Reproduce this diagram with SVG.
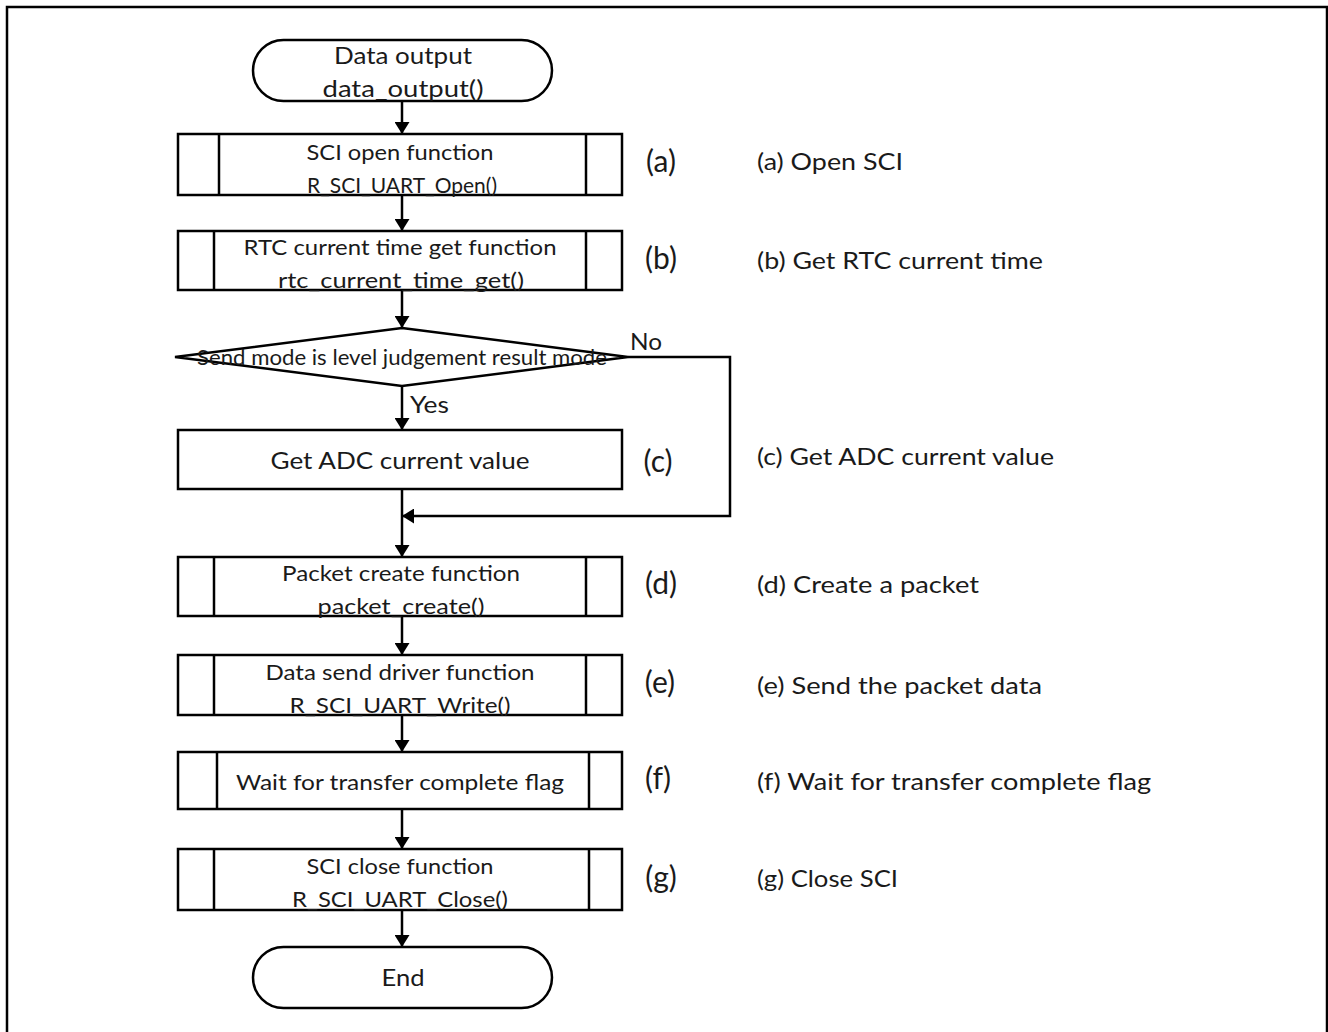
<svg xmlns="http://www.w3.org/2000/svg" width="1328" height="1032" viewBox="0 0 1328 1032">
<style>
.s{fill:#fff;stroke:#000;stroke-width:2.5}
.l{fill:none;stroke:#000;stroke-width:2.5}
.c{stroke:#000;stroke-width:2.5;fill:none}
text{font-family:Lato,"Open Sans","Liberation Sans",sans-serif;fill:#1a1a1a}
.t{font-size:22px;text-anchor:middle}
.k{font-size:30px;text-anchor:middle}
.d{font-size:24px}
</style>
<defs>
<marker id="ah" viewBox="0 0 12 15" refX="12" refY="7.5" markerWidth="12" markerHeight="15" markerUnits="userSpaceOnUse" orient="auto">
<path d="M0,0 L12,7.5 L0,15 Z" fill="#000"/>
</marker>
</defs>
<rect x="7" y="7" width="1320" height="1040" fill="none" stroke="#000" stroke-width="2.5"/>
<g id="connectors">
<line class="c" x1="402" y1="101" x2="402" y2="134" marker-end="url(#ah)"/>
<line class="c" x1="402" y1="195" x2="402" y2="231" marker-end="url(#ah)"/>
<line class="c" x1="402" y1="290" x2="402" y2="328" marker-end="url(#ah)"/>
<line class="c" x1="402" y1="386" x2="402" y2="430" marker-end="url(#ah)"/>
<polyline class="c" points="628,357 730,357 730,516 402,516" marker-end="url(#ah)"/>
<line class="c" x1="402" y1="489" x2="402" y2="557" marker-end="url(#ah)"/>
<line class="c" x1="402" y1="616" x2="402" y2="655" marker-end="url(#ah)"/>
<line class="c" x1="402" y1="715" x2="402" y2="752" marker-end="url(#ah)"/>
<line class="c" x1="402" y1="809" x2="402" y2="849" marker-end="url(#ah)"/>
<line class="c" x1="402" y1="910" x2="402" y2="947" marker-end="url(#ah)"/>
<text x="630" y="350" class="d" textLength="32" lengthAdjust="spacingAndGlyphs">No</text>
<text x="410" y="413" class="d" textLength="39" lengthAdjust="spacingAndGlyphs">Yes</text>
</g>
<g id="start">
<rect class="s" x="253" y="40" width="299" height="61" rx="30.5"/>
<text x="403" y="64" class="t" style="font-size:24px" textLength="138" lengthAdjust="spacingAndGlyphs">Data output</text>
<text x="403" y="97" class="t" style="font-size:24px" textLength="161" lengthAdjust="spacingAndGlyphs">data_output()</text>
</g>
<g id="a">
<rect class="s" x="178" y="134" width="444" height="61"/>
<line class="l" x1="219" y1="134" x2="219" y2="195"/>
<line class="l" x1="586" y1="134" x2="586" y2="195"/>
<text x="400" y="160" class="t" textLength="187" lengthAdjust="spacingAndGlyphs">SCI open function</text>
<text x="402" y="193" class="t" textLength="190" lengthAdjust="spacingAndGlyphs">R_SCI_UART_Open()</text>
</g>
<g id="b">
<rect class="s" x="178" y="231" width="444" height="59"/>
<line class="l" x1="214" y1="231" x2="214" y2="290"/>
<line class="l" x1="586" y1="231" x2="586" y2="290"/>
<text x="400" y="255" class="t" textLength="313" lengthAdjust="spacingAndGlyphs">RTC current time get function</text>
<text x="401" y="288" class="t" textLength="246" lengthAdjust="spacingAndGlyphs">rtc_current_time_get()</text>
</g>
<g id="decision">
<polygon class="s" points="402,328 628,357 402,386 175,357"/>
<text x="402" y="365" class="t" textLength="410" lengthAdjust="spacingAndGlyphs">Send mode is level judgement result mode</text>
</g>
<g id="c">
<rect class="s" x="178" y="430" width="444" height="59"/>
<text x="400" y="469" class="t" style="font-size:24px" textLength="259" lengthAdjust="spacingAndGlyphs">Get ADC current value</text>
</g>
<g id="d">
<rect class="s" x="178" y="557" width="444" height="59"/>
<line class="l" x1="214" y1="557" x2="214" y2="616"/>
<line class="l" x1="586" y1="557" x2="586" y2="616"/>
<text x="401" y="581" class="t" textLength="238" lengthAdjust="spacingAndGlyphs">Packet create function</text>
<text x="401" y="614" class="t" textLength="167" lengthAdjust="spacingAndGlyphs">packet_create()</text>
</g>
<g id="e">
<rect class="s" x="178" y="655" width="444" height="60"/>
<line class="l" x1="214" y1="655" x2="214" y2="715"/>
<line class="l" x1="586" y1="655" x2="586" y2="715"/>
<text x="400" y="680" class="t" textLength="269" lengthAdjust="spacingAndGlyphs">Data send driver function</text>
<text x="400" y="713" class="t" textLength="221" lengthAdjust="spacingAndGlyphs">R_SCI_UART_Write()</text>
</g>
<g id="f">
<rect class="s" x="178" y="752" width="444" height="57"/>
<line class="l" x1="217" y1="752" x2="217" y2="809"/>
<line class="l" x1="589" y1="752" x2="589" y2="809"/>
<text x="400" y="790" class="t" textLength="328" lengthAdjust="spacingAndGlyphs">Wait for transfer complete flag</text>
</g>
<g id="g">
<rect class="s" x="178" y="849" width="444" height="61"/>
<line class="l" x1="214" y1="849" x2="214" y2="910"/>
<line class="l" x1="589" y1="849" x2="589" y2="910"/>
<text x="400" y="874" class="t" textLength="187" lengthAdjust="spacingAndGlyphs">SCI close function</text>
<text x="400" y="907" class="t" textLength="216" lengthAdjust="spacingAndGlyphs">R_SCI_UART_Close()</text>
</g>
<g id="end">
<rect class="s" x="253" y="947" width="299" height="61" rx="30.5"/>
<text x="403" y="986" class="t" style="font-size:24px" textLength="43" lengthAdjust="spacingAndGlyphs">End</text>
</g>
<g id="labels">
<text x="661" y="172" class="k">(a)</text>
<text x="661" y="269" class="k">(b)</text>
<text x="658" y="472" class="k">(c)</text>
<text x="661" y="594" class="k">(d)</text>
<text x="660" y="693" class="k">(e)</text>
<text x="658" y="789" class="k">(f)</text>
<text x="661" y="888" class="k">(g)</text>
</g>
<g id="notes">
<text x="757" y="170" class="d" textLength="146" lengthAdjust="spacingAndGlyphs">(a) Open SCI</text>
<text x="757" y="269" class="d" textLength="286" lengthAdjust="spacingAndGlyphs">(b) Get RTC current time</text>
<text x="757" y="465" class="d" textLength="297" lengthAdjust="spacingAndGlyphs">(c) Get ADC current value</text>
<text x="757" y="593" class="d" textLength="222" lengthAdjust="spacingAndGlyphs">(d) Create a packet</text>
<text x="757" y="694" class="d" textLength="285" lengthAdjust="spacingAndGlyphs">(e) Send the packet data</text>
<text x="757" y="790" class="d" textLength="394" lengthAdjust="spacingAndGlyphs">(f) Wait for transfer complete flag</text>
<text x="757" y="887" class="d" textLength="141" lengthAdjust="spacingAndGlyphs">(g) Close SCI</text>
</g>
</svg>
